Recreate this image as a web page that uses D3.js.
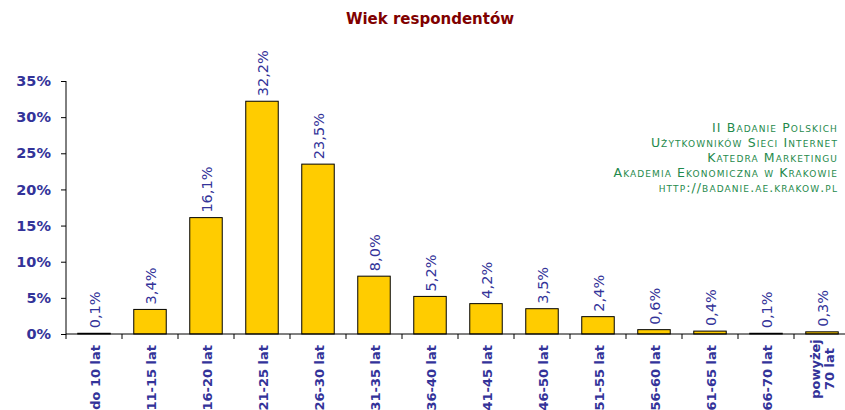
<!DOCTYPE html>
<html>
<head>
<meta charset="utf-8">
<script src="https://cdn.jsdelivr.net/npm/d3@7/dist/d3.min.js"></script>
<style>
  html, body { margin: 0; padding: 0; background: #fff; }
  svg { display: block; }
</style>
</head>
<body>
<svg id="chart" width="845" height="410"></svg>
<script>
// Age groups of respondents and their share (%)
const categories = ["do 10 lat", "11-15 lat", "16-20 lat", "21-25 lat", "26-30 lat", "31-35 lat",
  "36-40 lat", "41-45 lat", "46-50 lat", "51-55 lat", "56-60 lat", "61-65 lat", "66-70 lat", "powyżej 70 lat"];
const values = [0.1, 3.4, 16.1, 32.2, 23.5, 8.0, 5.2, 4.2, 3.5, 2.4, 0.6, 0.4, 0.1, 0.3];
const valueLabels = ["0,1%", "3,4%", "16,1%", "32,2%", "23,5%", "8,0%", "5,2%", "4,2%", "3,5%", "2,4%", "0,6%", "0,4%", "0,1%", "0,3%"];
const yTicks = [0, 5, 10, 15, 20, 25, 30, 35];
const title = "Wiek respondentów";
const credits = ["II Badanie Polskich", "Użytkowników Sieci Internet", "Katedra Marketingu",
  "Akademia Ekonomiczna w Krakowie", "http://badanie.ae.krakow.pl"];

const svg = d3.select("#chart");
const blue = "#333399";
const font = "Verdana, 'DejaVu Sans', sans-serif";

const x = d3.scaleBand().domain(categories).range([66, 850]).paddingInner(0.42).paddingOuter(0.21);
const y = d3.scaleLinear().domain([0, 35]).range([334, 81]);

// Title
svg.append("text")
  .attr("x", 430).attr("y", 24)
  .attr("text-anchor", "middle")
  .attr("fill", "#800000")
  .attr("font-family", font).attr("font-weight", "bold").attr("font-size", 15)
  .text(title);

// Bars
svg.append("g").selectAll("rect")
  .data(values)
  .join("rect")
  .attr("x", (d, i) => x(categories[i]))
  .attr("width", x.bandwidth())
  .attr("y", d => y(d))
  .attr("height", d => y(0) - y(d))
  .attr("fill", "#ffcc00")
  .attr("stroke", "#000")
  .attr("stroke-width", 1);

// Y axis
const yAxis = d3.axisLeft(y).tickValues(yTicks).tickSize(5).tickFormat(d => d + "%");
const gy = svg.append("g").attr("transform", "translate(66,0)").call(yAxis);
gy.select(".domain").attr("stroke", "#000").attr("d", "M0," + y(0) + "V" + y(35));
gy.selectAll(".tick line").attr("stroke", "#000");
gy.selectAll(".tick text")
  .attr("x", -15)
  .attr("fill", blue)
  .attr("font-family", font).attr("font-weight", "bold").attr("font-size", 14.5);

// X axis line with ticks at category boundaries
const bounds = d3.range(categories.length + 1).map(i => 66 + i * (784 / categories.length));
const gx = svg.append("g");
gx.append("line").attr("x1", 66).attr("x2", 850).attr("y1", y(0)).attr("y2", y(0)).attr("stroke", "#000");
gx.selectAll("line.tk").data(bounds).join("line").attr("class", "tk")
  .attr("x1", d => d).attr("x2", d => d)
  .attr("y1", y(0)).attr("y2", y(0) + 5)
  .attr("stroke", "#000");

// Category labels, rotated
const cats = svg.append("g").selectAll("text")
  .data(categories)
  .join("text")
  .attr("fill", blue)
  .attr("font-family", font).attr("font-weight", "bold").attr("font-size", 13);
cats.each(function(d) {
  const t = d3.select(this);
  const cx = x(d) + x.bandwidth() / 2 + 1;
  if (d === "powyżej 70 lat") {
    t.attr("transform", `translate(${cx},369) rotate(-90)`).attr("text-anchor", "middle");
    t.append("tspan").attr("x", 0).attr("dy", "-0.2em").text("powyżej");
    t.append("tspan").attr("x", 0).attr("dy", "1.05em").text("70 lat");
  } else {
    t.attr("transform", `translate(${cx},345) rotate(-90)`).attr("text-anchor", "end");
    t.append("tspan").attr("dy", "0.35em").text(d);
  }
});

// Value labels above bars
svg.append("g").selectAll("text")
  .data(values)
  .join("text")
  .attr("transform", (d, i) => `translate(${x(categories[i]) + x.bandwidth() / 2 + 1},${y(d) - 5}) rotate(-90)`)
  .attr("dy", "0.35em")
  .attr("fill", blue)
  .attr("font-family", font).attr("font-size", 14.5)
  .text((d, i) => valueLabels[i]);

// Credits block
svg.append("g").selectAll("text")
  .data(credits)
  .join("text")
  .attr("x", 838)
  .attr("y", (d, i) => 132 + i * 15)
  .attr("text-anchor", "end")
  .attr("fill", "#1f8a4c")
  .attr("font-family", "'DejaVu Sans', sans-serif").attr("font-size", 12.5)
  .style("font-variant", "small-caps")
  .attr("letter-spacing", 1.1)
  .text(d => d);
</script>
</body>
</html>
